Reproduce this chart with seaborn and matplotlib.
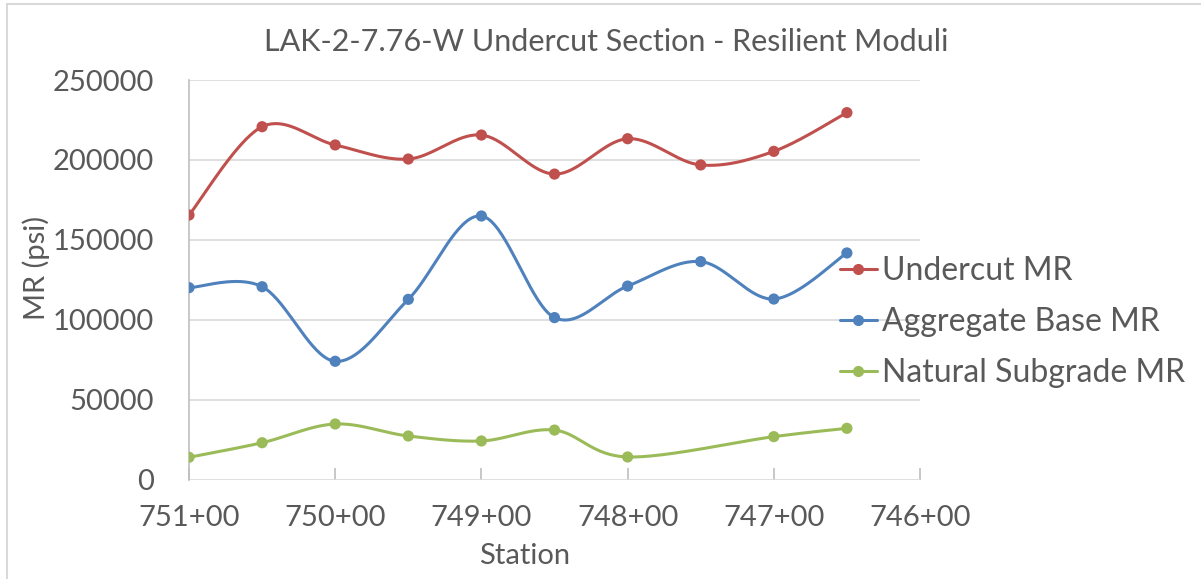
import numpy as np
import pandas as pd
import matplotlib
matplotlib.use("Agg")
import matplotlib.pyplot as plt
from matplotlib.lines import Line2D
from matplotlib.patches import Rectangle
from matplotlib.ticker import FuncFormatter, MultipleLocator
import seaborn as sns

# Station positions (hundreds of feet) and resilient moduli (psi)
stations = [751.0, 750.5, 750.0, 749.5, 749.0, 748.5, 748.0, 747.5, 747.0, 746.5]
undercut_mr = [165600, 220800, 209400, 200600, 215600, 191200, 213300, 196900, 205400, 229600]
aggregate_base_mr = [120200, 120800, 74200, 112900, 165000, 101500, 121200, 136500, 113100, 141900]
natural_subgrade_mr = [14200, 23300, 35000, 27500, 24400, 31200, 14400, np.nan, 27100, 32300]

series_names = ["Undercut MR", "Aggregate Base MR", "Natural Subgrade MR"]
series_values = [undercut_mr, aggregate_base_mr, natural_subgrade_mr]
series_colors = ["#C0504D", "#4F81BD", "#9BBB59"]

x_ticks = [751, 750, 749, 748, 747, 746]
title_text = "LAK-2-7.76-W Undercut Section - Resilient Moduli"

TEXT = "#595959"
FONT = ["Lato", "DejaVu Sans"]


def smooth_curve(x, y, n=40):
    """Catmull-Rom style smoothing through the given points (skips gaps)."""
    x = np.asarray(x, float)
    y = np.asarray(y, float)
    keep = ~np.isnan(y)
    x, y = x[keep], y[keep]
    px = np.concatenate([[x[0]], x, [x[-1]]])
    py = np.concatenate([[y[0]], y, [y[-1]]])
    xs, ys = [], []
    t = np.linspace(0, 1, n)
    for i in range(1, len(px) - 2):
        p0x, p1x, p2x, p3x = px[i - 1], px[i], px[i + 1], px[i + 2]
        p0y, p1y, p2y, p3y = py[i - 1], py[i], py[i + 1], py[i + 2]
        c1x, c1y = p1x + (p2x - p0x) / 6, p1y + (p2y - p0y) / 6
        c2x, c2y = p2x - (p3x - p1x) / 6, p2y - (p3y - p1y) / 6
        b0 = (1 - t) ** 3
        b1 = 3 * (1 - t) ** 2 * t
        b2 = 3 * (1 - t) * t ** 2
        b3 = t ** 3
        xs.append(b0 * p1x + b1 * c1x + b2 * c2x + b3 * p2x)
        ys.append(b0 * p1y + b1 * c1y + b2 * c2y + b3 * p2y)
    return np.concatenate(xs), np.concatenate(ys)


sns.set_theme(style="white")
plt.rcParams["font.family"] = FONT

fig = plt.figure(figsize=(12.01, 5.79), dpi=100)
ax = fig.add_axes([189 / 1201, 99 / 579, 731 / 1201, 400 / 579])

frame = Rectangle((7 / 1201, -0.05), 1.2, (575 / 579) + 0.05, transform=fig.transFigure,
                  fill=False, edgecolor="#D9D9D9", linewidth=1.5, zorder=-10)
fig.patches.append(frame)

handles = []
for name, vals, color in zip(series_names, series_values, series_colors):
    sx, sy = smooth_curve(stations, vals)
    ax.plot(sx, sy, color=color, linewidth=2.2, solid_capstyle="round", zorder=3)
    df = pd.DataFrame({"station": stations, "mr": vals}).dropna()
    sns.scatterplot(data=df, x="station", y="mr", ax=ax, color=color, s=65,
                    edgecolor="none", legend=False, zorder=4)
    handles.append(Line2D([0], [0], color=color, linewidth=2.2, marker="o",
                          markersize=7, label=name))

ax.set_xlim(751, 746)
ax.set_ylim(0, 250000)
ax.set_xticks(x_ticks)
ax.xaxis.set_major_formatter(FuncFormatter(lambda v, p: f"{int(round(v))}+00"))
ax.yaxis.set_major_locator(MultipleLocator(50000))
ax.yaxis.set_major_formatter(FuncFormatter(lambda v, p: f"{int(v)}"))

ax.grid(axis="y", color="#D9D9D9", linewidth=1.2)
ax.set_axisbelow(True)
for side in ["top", "right", "bottom"]:
    ax.spines[side].set_visible(False)
ax.spines["left"].set_color("#BFBFBF")
ax.spines["left"].set_linewidth(1.2)

ax.tick_params(axis="x", direction="in", length=9, width=1.2, color="#BFBFBF",
               labelsize=21, labelcolor=TEXT, pad=18, bottom=True)
ax.tick_params(axis="y", length=0, labelsize=21, labelcolor=TEXT, pad=25)

ax.set_xlabel("")
ax.set_ylabel("")
fig.text(525 / 1201, 1 - 556 / 579, "Station", ha="center", va="center",
         fontsize=21, color=TEXT)
fig.text(36 / 1201, 1 - 268 / 579, "MR (psi)", ha="center", va="center",
         rotation=90, fontsize=21, color=TEXT)
fig.text(606 / 1201, 1 - 42 / 579, title_text, ha="center", va="center",
         fontsize=22, color=TEXT)

fig.legend(handles=handles, loc="center left", bbox_to_anchor=(840 / 1201, 1 - 322 / 579),
           frameon=False, fontsize=23, labelcolor=TEXT, handlelength=1.15,
           handletextpad=0.15, labelspacing=0.65, borderaxespad=0, borderpad=0)

fig.savefig("out.png", dpi=100)
